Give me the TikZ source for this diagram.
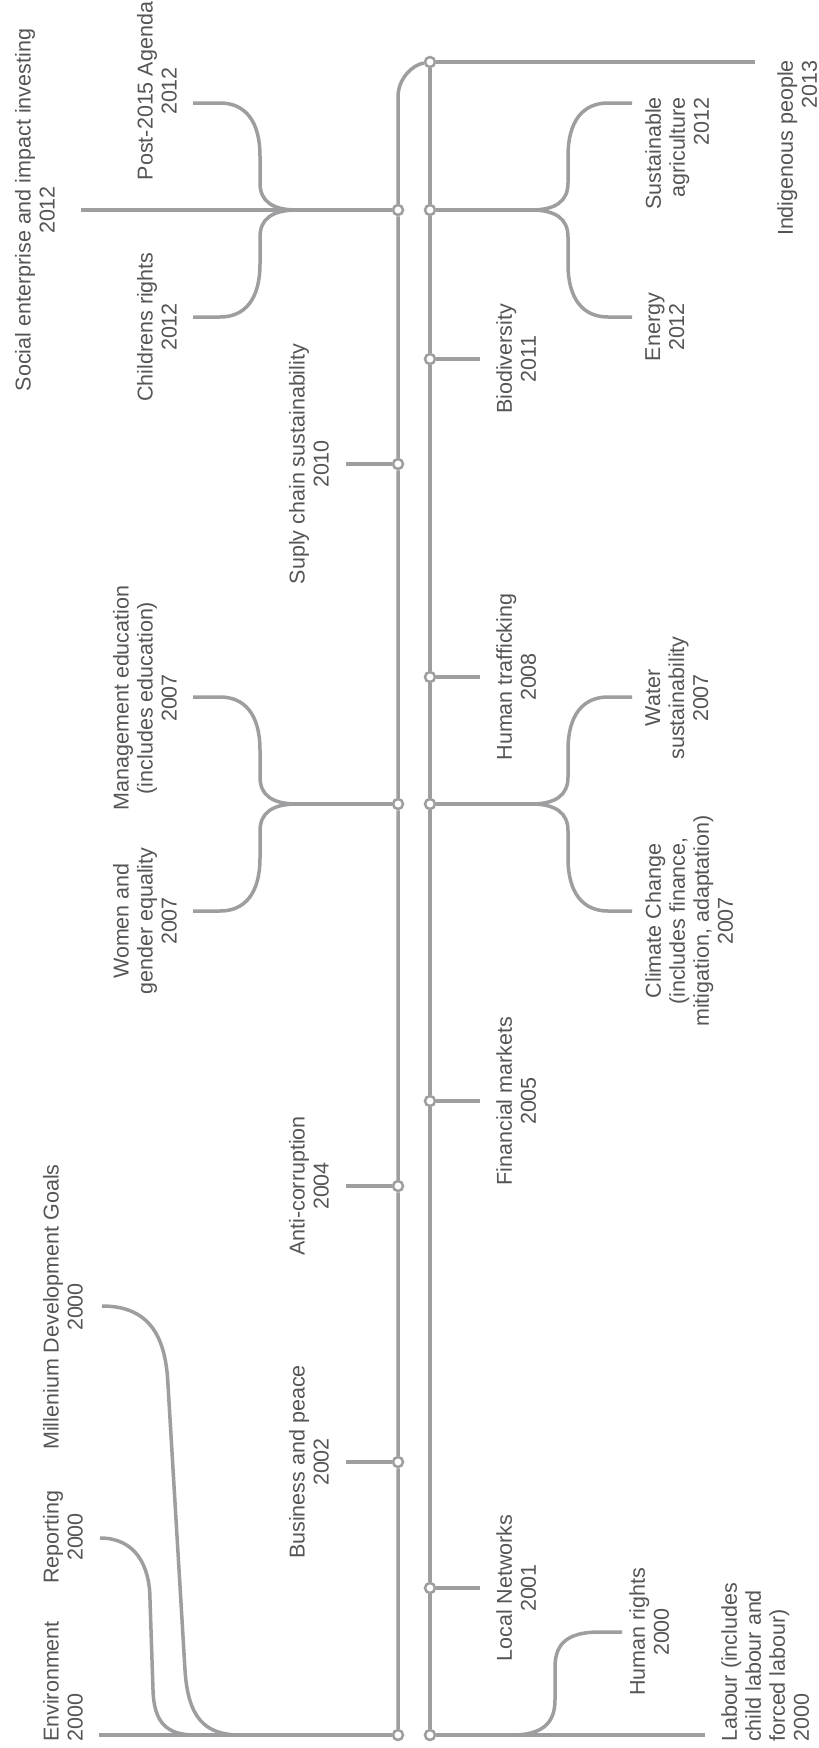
\documentclass[tikz,border=0pt]{standalone}
\usepackage{fontspec}
\newfontfamily\labfont{Liberation Sans}
\definecolor{linegray}{RGB}{158,158,160}
\definecolor{textgray}{RGB}{85,85,85}
\begin{document}
\begin{tikzpicture}[x=1pt,y=-1pt,
  tl/.style={draw=linegray,line width=3.5pt,line join=round},
  dot/.style={circle,draw=linegray,fill=white,line width=2.5pt,minimum size=10pt,inner sep=0pt},
  lab/.style={rotate=90,inner sep=0pt,text=textgray,font=\labfont\fontsize{21.5}{24}\selectfont,align=center}]
\fill[white] (0,0) rectangle (819,1748);
\useasboundingbox (0,0) rectangle (819,1748);

% timeline dots
\node[dot] (L2000) at (398,1735) {};
\node[dot] (L2002) at (398,1462) {};
\node[dot] (L2004) at (398,1186) {};
\node[dot] (L2007) at (398,804) {};
\node[dot] (L2010) at (398,464) {};
\node[dot] (L2012) at (398,210) {};
\node[dot] (R2000) at (430,1735) {};
\node[dot] (R2001) at (430,1588) {};
\node[dot] (R2005) at (430,1101) {};
\node[dot] (R2007) at (430,804) {};
\node[dot] (R2008) at (430,677) {};
\node[dot] (R2011) at (430,359) {};
\node[dot] (R2012) at (430,210) {};
\node[dot] (R2013) at (430,62) {};

% free ends
\coordinate (Ltop) at (398,97);
\coordinate (envEnd) at (99,1735);
\coordinate (repEnd) at (100,1538);
\coordinate (mdgEnd) at (102,1306);
\coordinate (t02) at (346,1462);
\coordinate (t04) at (346,1186);
\coordinate (t10) at (346,464);
\coordinate (t01) at (480,1588);
\coordinate (t05) at (480,1101);
\coordinate (t08) at (480,677);
\coordinate (t11) at (480,359);
\coordinate (labEnd) at (705,1735);
\coordinate (hrEnd) at (622,1632);
\coordinate (indEnd) at (755,62);
\coordinate (socEnd) at (81,210);
\coordinate (jL07) at (297,804);
\coordinate (jR07) at (531,804);
\coordinate (jL12) at (297,210);
\coordinate (jR12) at (531,210);
\coordinate (eMgmt) at (193,697);
\coordinate (eWomen) at (193,911);
\coordinate (ePost) at (193,103);
\coordinate (eChild) at (193,317);
\coordinate (eWater) at (632,697);
\coordinate (eClimate) at (632,911);
\coordinate (eSust) at (632,103);
\coordinate (eEnergy) at (632,317);

% main lines
\draw[tl] (L2000) -- (L2002) -- (L2004) -- (L2007) -- (L2010) -- (L2012) -- (Ltop) .. controls (398,79) and (412,65) .. (R2013);
\draw[tl] (R2013) -- (R2012) -- (R2011) -- (R2008) -- (R2007) -- (R2005) -- (R2001) -- (R2000);

% ticks
\draw[tl] (L2002) -- (t02);
\draw[tl] (L2004) -- (t04);
\draw[tl] (L2010) -- (t10);
\draw[tl] (R2001) -- (t01);
\draw[tl] (R2005) -- (t05);
\draw[tl] (R2008) -- (t08);
\draw[tl] (R2011) -- (t11);

% 2000 left
\draw[tl] (L2000) -- (envEnd);
\draw[tl] (repEnd) .. controls (135,1538) and (150,1565) .. (150,1600) -- (153,1690) .. controls (154,1722) and (166,1735) .. (195,1735);
\draw[tl] (mdgEnd) .. controls (152,1306) and (166,1340) .. (168,1385) -- (185,1670) .. controls (188,1718) and (205,1735) .. (240,1735);

% 2000 right
\draw[tl] (R2000) -- (labEnd);
\draw[tl] (hrEnd) -- (600,1632) .. controls (572,1632) and (555,1640) .. (555,1667) -- (555,1700) .. controls (555,1725) and (540,1735) .. (512,1735);

% 2013
\draw[tl] (R2013) -- (indEnd);

% 2012 branches
\draw[tl] (L2012) -- (socEnd);
\draw[tl] (jL12) .. controls (272,210) and (260,201) .. (260,183) -- (260,156) .. controls (260,121) and (245,103) .. (220,103) -- (ePost);
\draw[tl] (jL12) .. controls (272,210) and (260,219) .. (260,237) -- (260,264) .. controls (260,299) and (245,317) .. (220,317) -- (eChild);
\draw[tl] (R2012) -- (jR12);
\draw[tl] (jR12) .. controls (556,210) and (568,201) .. (568,183) -- (568,156) .. controls (568,121) and (583,103) .. (608,103) -- (eSust);
\draw[tl] (jR12) .. controls (556,210) and (568,219) .. (568,237) -- (568,264) .. controls (568,299) and (583,317) .. (608,317) -- (eEnergy);

% 2007 branches
\draw[tl] (L2007) -- (jL07);
\draw[tl] (jL07) .. controls (272,804) and (260,795) .. (260,777) -- (260,750) .. controls (260,715) and (245,697) .. (220,697) -- (eMgmt);
\draw[tl] (jL07) .. controls (272,804) and (260,813) .. (260,831) -- (260,858) .. controls (260,893) and (245,911) .. (220,911) -- (eWomen);
\draw[tl] (R2007) -- (jR07);
\draw[tl] (jR07) .. controls (556,804) and (568,795) .. (568,777) -- (568,750) .. controls (568,715) and (583,697) .. (608,697) -- (eWater);
\draw[tl] (jR07) .. controls (556,804) and (568,813) .. (568,831) -- (568,858) .. controls (568,893) and (583,911) .. (608,911) -- (eClimate);

% labels left
\node[lab,anchor=south west,align=left] (env) at (83,1742) {Environment\\2000};
\node[lab,anchor=south] (rep) at (83,1537) {Reporting\\2000};
\node[lab,anchor=south] (mdg) at (83,1307) {Millenium Development Goals\\2000};
\node[lab,anchor=south] (bus) at (329,1462) {Business and peace\\2002};
\node[lab,anchor=south] (anti) at (329,1186) {Anti-corruption\\2004};
\node[lab,anchor=south] (supl) at (329,464) {Suply chain sustainability\\2010};
\node[lab,anchor=south] (women) at (177,921) {Women and\\gender equality\\2007};
\node[lab,anchor=south] (mgmt) at (177,698) {Management education\\(includes education)\\2007};
\node[lab,anchor=south] (child) at (177,327) {Childrens rights\\2012};
\node[lab,anchor=south] (post) at (177,91) {Post-2015 Agenda\\2012};
\node[lab,anchor=south] (social) at (55,210) {Social enterprise and impact investing\\2012};

% labels right
\node[lab,anchor=north] (local) at (496,1588) {Local Networks\\2001};
\node[lab,anchor=north] (hr) at (629,1632) {Human rights\\2000};
\node[lab,anchor=north west,align=left] (labour) at (721,1742) {Labour (includes\\child labour and\\forced labour)\\2000};
\node[lab,anchor=north] (fin) at (496,1101) {Financial markets\\2005};
\node[lab,anchor=north] (climate) at (645,921) {Climate Change\\(includes finance,\\mitigation, adaptation)\\2007};
\node[lab,anchor=north] (water) at (645,698) {Water\\sustainability\\2007};
\node[lab,anchor=north] (traff) at (496,677) {Human trafficking\\2008};
\node[lab,anchor=north] (bio) at (496,359) {Biodiversity\\2011};
\node[lab,anchor=north] (energy) at (645,327) {Energy\\2012};
\node[lab,anchor=north east,align=right] (sust) at (645,97) {Sustainable\\agriculture\\2012};
\node[lab,anchor=north east,align=right] (indig) at (777,60) {Indigenous people\\2013};
\end{tikzpicture}
\end{document}
